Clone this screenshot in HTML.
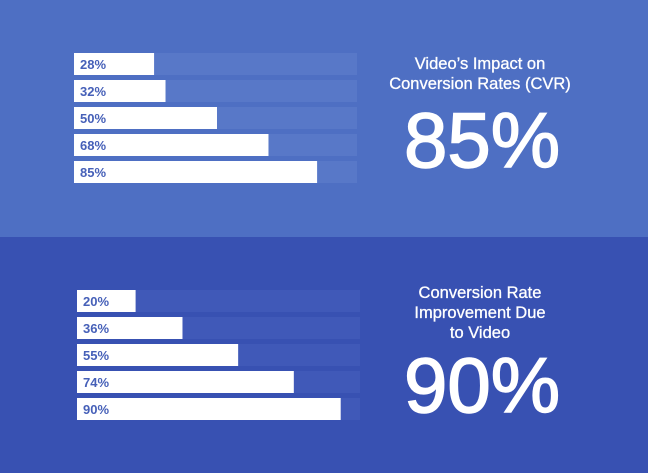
<!DOCTYPE html>
<html><head><meta charset="utf-8"><style>
body{margin:0;width:648px;height:473px;overflow:hidden;font-family:"Liberation Sans",sans-serif}
.p{position:absolute;left:0;width:648px}
.t{position:absolute;color:#fff;text-align:center;width:260px;left:350px;font-size:16.5px;line-height:20px;-webkit-text-stroke:0.3px #fff}
.big{position:absolute;color:#fff;text-align:center;width:260px;left:352px;font-size:78px;line-height:80px;-webkit-text-stroke:1.5px #fff}
</style></head><body>
<div class="p" style="top:0;height:237px;background:#4e6fc3"></div>
<div class="p" style="top:237px;height:236px;background:#3851b2"></div>
<svg id="c" width="648" height="473" style="position:absolute;left:0;top:0"></svg>
<div class="t" style="top:54px">Video’s Impact on<br>Conversion Rates (CVR)</div>
<div class="big" style="top:100px">85%</div>
<div class="t" style="top:283px">Conversion Rate<br>Improvement Due<br>to Video</div>
<div class="big" style="top:345px">90%</div>
<script>
const topValues=[28,32,50,68,85];
const bottomValues=[20,36,55,74,90];
const svg=document.getElementById('c');
const NS='http://www.w3.org/2000/svg';
function draw(vals,x0,x1,y0,scale,track,name){
  vals.forEach((v,i)=>{
    const y=y0+i*27;
    const t=document.createElementNS(NS,'rect');
    t.setAttribute('x',x0);t.setAttribute('y',y);t.setAttribute('width',x1-x0);t.setAttribute('height',22);t.setAttribute('fill',track);
    
    
    svg.appendChild(t);
    const b=document.createElementNS(NS,'rect');
    b.setAttribute('x',x0);b.setAttribute('y',y);b.setAttribute('width',v*scale);b.setAttribute('height',22);b.setAttribute('fill','#fff');
    
    
    svg.appendChild(b);
    const tx=document.createElementNS(NS,'text');
    tx.setAttribute('x',x0+6);tx.setAttribute('y',y+16);tx.setAttribute('fill','#4660b8');
    tx.setAttribute('font-size','13');tx.setAttribute('font-weight','bold');tx.setAttribute('font-family','Liberation Sans, sans-serif');
    tx.textContent=v+'%';
    
    
    svg.appendChild(tx);
  });
}
draw(topValues,74,357,53,2.86,'#5878c8','top');
draw(bottomValues,77,360,290,2.93,'#4059b8','bottom');
</script>
</body></html>
